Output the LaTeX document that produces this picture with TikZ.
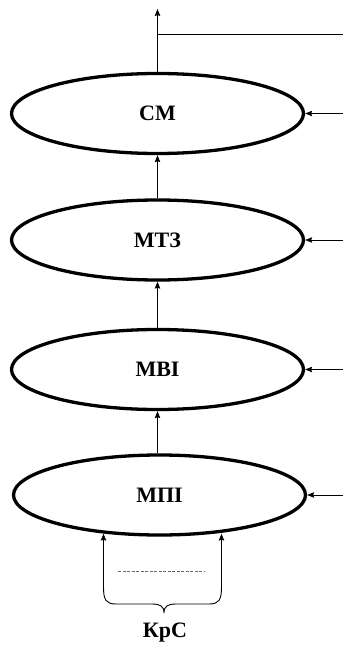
\documentclass[tikz,border=0pt]{standalone}
\usepackage{fontspec}
\setmainfont{Liberation Serif}
\usetikzlibrary{arrows.meta,shapes.geometric}
\begin{document}
\begin{tikzpicture}[x=1pt,y=-1pt,
  ell/.style={draw,ellipse,line width=3.3pt,minimum width=292pt,minimum height=80pt,inner sep=0pt,
    font=\fontsize{22}{26}\selectfont\bfseries},
  conn/.style={line width=0.9pt,-{Stealth[length=7pt,width=5.5pt,inset=1pt]}},
  plain/.style={line width=0.9pt},
  lbl/.style={font=\fontsize{22}{26}\selectfont\bfseries,inner sep=0pt}]
\useasboundingbox (0,0) rectangle (343,647);
% ellipses
\node[ell] (cm)  at (157.5,113.5) {СМ};
\node[ell] (mtz) at (157.5,240) {МТЗ};
\node[ell] (mvi) at (157.5,369.5) {МВІ};
\node[ell] (mpi) at (159.5,495) {МПІ};
% top output
\coordinate (top) at (157.5,9);
\coordinate (tj) at (157.5,34);
\coordinate (tr) at (343,34);
\draw[conn] (cm.north) -- (top);
\draw[plain] (tj) -- (tr);
% vertical connections
\draw[conn] (mtz.north) -- (cm.south);
\draw[conn] (mvi.north) -- (mtz.south);
\draw[conn] (mpi.north -| mvi.south) -- (mvi.south);
% right inputs
\coordinate (r1) at (343,113.5);
\coordinate (r2) at (343,240);
\coordinate (r3) at (343,369.5);
\coordinate (r4) at (343,495);
\draw[conn] (r1) -- (cm.east);
\draw[conn] (r2) -- (mtz.east);
\draw[conn] (r3) -- (mvi.east);
\draw[conn] (r4) -- (mpi.east);
% bottom inputs
\coordinate (k1) at (103.5,587);
\coordinate (k2) at (221.5,587);
\draw[conn] (k1) -- (k1 |- mpi.215);
\draw[conn] (k2) -- (k2 |- mpi.325);
% dashed line
\coordinate (d1) at (118,571);
\coordinate (d2) at (205,571);
\draw[black!60,line width=1pt,dash pattern=on 3pt off 1.5pt] (d1) -- (d2);
% brace
\coordinate (tip) at (164,613);
\draw[plain] (k1) .. controls (103.5,600) and (106,604) .. (116,604)
  -- (152,604) .. controls (160,604) and (164,606) .. (tip)
  .. controls (164,606) and (168,604) .. (176,604)
  -- (209,604) .. controls (219,604) and (221.5,600) .. (k2);
\node[lbl,anchor=base] (krs) at (165,637) {КрС};
\end{tikzpicture}
\end{document}
